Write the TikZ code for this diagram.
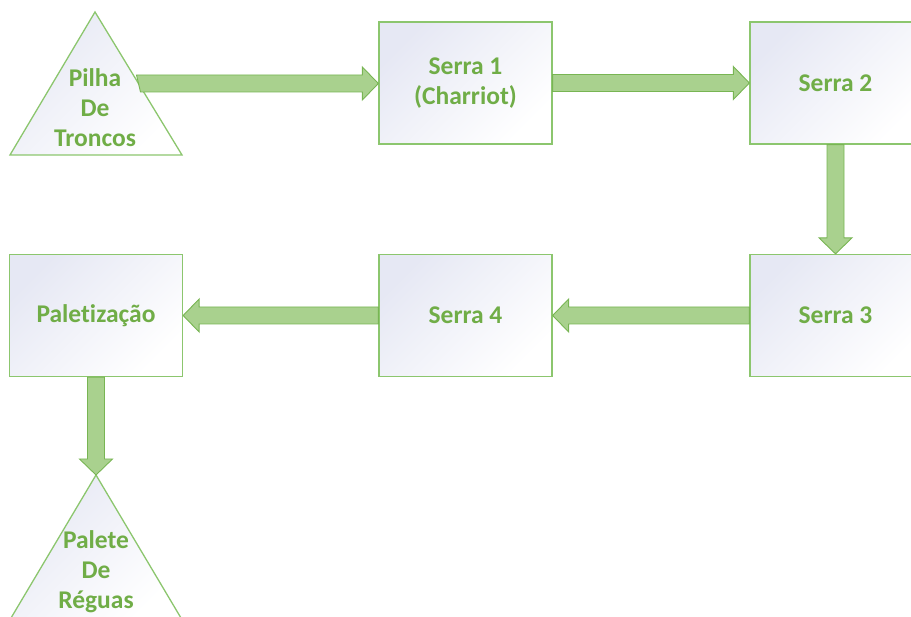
\documentclass[tikz,border=0pt]{standalone}
\usepackage{fontspec}
\setmainfont{Carlito}[Ligatures={NoCommon,NoRare,NoDiscretionary}]
\usetikzlibrary{calc}
\definecolor{txtgreen}{HTML}{70AD47}
\definecolor{boxline}{HTML}{8CC66E}
\definecolor{arrowfill}{HTML}{A9D18E}
\definecolor{arrowline}{HTML}{78B553}
\definecolor{shadeA}{HTML}{E6E8F4}
\tikzset{
  x=1pt, y=-1pt,
  boxshade/.style={top color=shadeA, bottom color=white, shading angle=45},
  procbox/.style={draw=boxline, line width=1.3pt, boxshade, minimum width=173pt, minimum height=122pt, inner sep=0pt},
  lbl/.style={text=txtgreen, font=\fontsize{25.5}{30}\selectfont\bfseries, align=center},
  tribox/.style={draw=boxline, line width=1.3pt, boxshade, line join=miter},
  blockarrow/.style={fill=arrowfill, draw=arrowline, line width=0.9pt, line join=miter}
}
\begin{document}
\begin{tikzpicture}
\useasboundingbox (0,0) rectangle (911,617);
\clip (0,0) rectangle (911,617);
% boxes
\node[procbox] (s1) at (465.5,83) {};
\node[procbox] (s2) at (836.5,83) {};
\node[procbox] (s3) at (836.5,315.5) {};
\node[procbox] (s4) at (465.5,315.5) {};
\node[procbox] (pal) at (96,315.5) {};
\node[lbl] at (s1) {Serra 1\\(Charriot)};
\node[lbl] at (835.5,83) {Serra 2};
\node[lbl] at (835.5,315.5) {Serra 3};
\node[lbl] at (s4) {Serra 4};
\node[lbl] at (pal) {Paletização};
% triangles
\coordinate (t1top) at (95,12);
\coordinate (t1l) at (10,155);
\coordinate (t1r) at (182,155);
\path[tribox] (t1top) -- (t1r) -- (t1l) -- cycle;
\node[lbl] (pilha) at (95,108) {Pilha\\De\\Troncos};
\coordinate (t2top) at (96,475);
\coordinate (t2l) at (11,618);
\coordinate (t2r) at (181,618);
\path[tribox] (t2top) -- (t2r) -- (t2l) -- cycle;
\node[lbl] (palete) at (96,572) {Palete\\De\\Réguas};
% arrows
\coordinate (a1s) at ($(t1top)!0.5!(t1r)$);
\coordinate (a1t) at (s1.west |- a1s);
\path[blockarrow] ($(a1s)+(-2,-8.5)$) -- ($(a1t)+(-16,-8.5)$) -- ($(a1t)+(-16,-16.5)$) -- (a1t)
  -- ($(a1t)+(-16,16.5)$) -- ($(a1t)+(-16,8.5)$) -- ($(a1s)+(2,8.5)$) -- cycle;
\coordinate (a2s) at (s1.east);
\coordinate (a2t) at (s2.west);
\path[blockarrow] ($(a2s)+(0,-8.5)$) -- ($(a2t)+(-16,-8.5)$) -- ($(a2t)+(-16,-16.5)$) -- (a2t)
  -- ($(a2t)+(-16,16.5)$) -- ($(a2t)+(-16,8.5)$) -- ($(a2s)+(0,8.5)$) -- cycle;
\coordinate (a3s) at ($(s2.south)+(-1,0)$);
\coordinate (a3t) at ($(s3.north)+(-1,0)$);
\path[blockarrow] ($(a3s)+(-8.5,0)$) -- ($(a3t)+(-8.5,-16)$) -- ($(a3t)+(-16.5,-16)$) -- (a3t)
  -- ($(a3t)+(16.5,-16)$) -- ($(a3t)+(8.5,-16)$) -- ($(a3s)+(8.5,0)$) -- cycle;
\coordinate (a4s) at (s3.west);
\coordinate (a4t) at (s4.east);
\path[blockarrow] ($(a4s)+(0,-8.5)$) -- ($(a4t)+(16,-8.5)$) -- ($(a4t)+(16,-16.5)$) -- (a4t)
  -- ($(a4t)+(16,16.5)$) -- ($(a4t)+(16,8.5)$) -- ($(a4s)+(0,8.5)$) -- cycle;
\coordinate (a5s) at (s4.west);
\coordinate (a5t) at (pal.east);
\path[blockarrow] ($(a5s)+(0,-8.5)$) -- ($(a5t)+(16,-8.5)$) -- ($(a5t)+(16,-16.5)$) -- (a5t)
  -- ($(a5t)+(16,16.5)$) -- ($(a5t)+(16,8.5)$) -- ($(a5s)+(0,8.5)$) -- cycle;
\coordinate (a6s) at (pal.south);
\coordinate (a6t) at (t2top);
\path[blockarrow] ($(a6s)+(-8.5,0)$) -- ($(a6t)+(-8.5,-16)$) -- ($(a6t)+(-16.5,-16)$) -- (a6t)
  -- ($(a6t)+(16.5,-16)$) -- ($(a6t)+(8.5,-16)$) -- ($(a6s)+(8.5,0)$) -- cycle;
\end{tikzpicture}
\end{document}
